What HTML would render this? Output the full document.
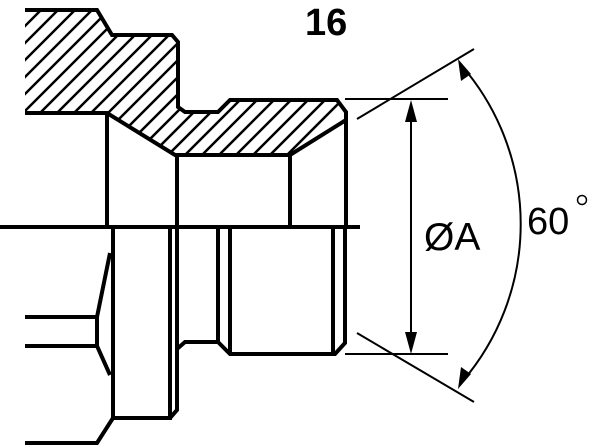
<!DOCTYPE html>
<html><head><style>html,body{margin:0;padding:0;background:#fff;width:600px;height:446px;overflow:hidden}</style></head>
<body>
<svg width="600" height="446" viewBox="0 0 600 446" xmlns="http://www.w3.org/2000/svg">
<defs>
<clipPath id="c"><path d="M25,10 L97,10 L112,35 L172,35 L178,42 L178,107 L185,112 L218,112 L230,100 L337,100 L346,112 L346,120 L290,155 L175,155 L107,113 L25,113 Z"/></clipPath>
</defs>
<g clip-path="url(#c)" stroke="#000" stroke-width="2.5">
<path d="M-200,200 L0,0 M-183,200 L17,0 M-166,200 L34,0 M-149,200 L51,0 M-132,200 L68,0 M-115,200 L85,0 M-98,200 L102,0 M-81,200 L119,0 M-64,200 L136,0 M-47,200 L153,0 M-30,200 L170,0 M-13,200 L187,0 M4,200 L204,0 M21,200 L221,0 M38,200 L238,0 M55,200 L255,0 M72,200 L272,0 M89,200 L289,0 M106,200 L306,0 M123,200 L323,0 M140,200 L340,0 M157,200 L357,0 M174,200 L374,0 M191,200 L391,0 M208,200 L408,0 M225,200 L425,0 M242,200 L442,0"/>
</g>
<g fill="none" stroke="#000" stroke-width="4" stroke-linejoin="miter">
<path d="M25,10 L97,10 L112,35 L172,35 L178,42 L178,107 L185,112 L218,112 L230,100 L337,100 L346,112 L346,228"/>
<path d="M25,113 L107,113 L175,155 L290,155 L346,120"/>
<path d="M107,113 L107,228 M177,155 L177,228 M290,155 L290,228"/>
<path d="M0,227 L360,227"/>
<path d="M113,228 L113,418 L170,418 L170,228"/>
<path d="M177,228 L177,410 L170,418"/>
<path d="M177,349 L185,342 L218,342 L218,228"/>
<path d="M218,342 L230,354 L335,354 L345,343 L345,228"/>
<path d="M230,228 L230,354 M333,228 L333,354"/>
<path d="M25,317 L97,317 L110,253 M97,317 L97,346 L110,375 M25,346 L97,346"/>
<path d="M25,443 L97,443 L113,418"/>
</g>
<g fill="none" stroke="#000" stroke-width="2">
<path d="M345,99 L448,99 M345,354 L448,354"/>
<path d="M411,108 L411,346"/>
<path d="M357,119 L474,49 M357,333 L474,402"/>
<path d="M462,66 A242,242 0 0 1 462,382"/>
</g>
<g fill="#000">
<path d="M411,100 L405,122 L417,122 Z"/>
<path d="M411,354 L405,332 L417,332 Z"/>
<path d="M458,59 L461,81 L471,74 Z"/>
<path d="M458,389 L461,367 L471,374 Z"/>
</g>
<text x="305" y="35" font-family="Liberation Sans, sans-serif" font-weight="bold" font-size="38">16</text>
<text x="424" y="250" font-family="Liberation Sans, sans-serif" font-size="39">ØA</text>
<text x="527" y="234" font-family="Liberation Sans, sans-serif" font-size="38">60</text>
<circle cx="582" cy="200" r="4.5" fill="none" stroke="#000" stroke-width="1.5"/>
</svg>
</body></html>
